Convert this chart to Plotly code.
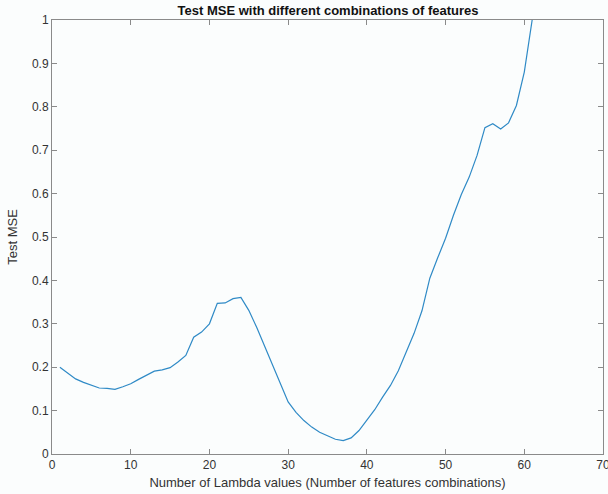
import plotly.graph_objects as go

n_lambda = list(range(1, 65))
test_mse = [0.200, 0.186, 0.173, 0.165, 0.159, 0.152, 0.151, 0.149, 0.155, 0.162,
            0.172, 0.182, 0.191, 0.194, 0.199, 0.212, 0.227, 0.269, 0.281, 0.300,
            0.347, 0.348, 0.358, 0.361, 0.331, 0.292, 0.250, 0.205, 0.162, 0.120,
            0.096, 0.077, 0.062, 0.050, 0.042, 0.034, 0.031, 0.037, 0.054, 0.077,
            0.102, 0.131, 0.158, 0.192, 0.235, 0.278, 0.330, 0.405, 0.452, 0.497,
            0.550, 0.598, 0.638, 0.688, 0.752, 0.761, 0.749, 0.763, 0.803, 0.880,
            1.000, 1.13, 1.28, 1.45]

x_ticks = [0, 10, 20, 30, 40, 50, 60, 70]
y_ticks = [0, 0.1, 0.2, 0.3, 0.4, 0.5, 0.6, 0.7, 0.8, 0.9, 1]
y_tick_labels = ["0", "0.1", "0.2", "0.3", "0.4", "0.5", "0.6", "0.7", "0.8", "0.9", "1"]

fig = go.Figure()
fig.add_trace(go.Scatter(x=n_lambda, y=test_mse, mode="lines",
                         line=dict(color="#2f8ac6", width=1.2), showlegend=False))

font_family = "Liberation Sans, Arial, Helvetica, sans-serif"
axis_common = dict(showline=True, linecolor="#8a8a8a", linewidth=1, mirror="ticks",
                   ticks="inside", ticklen=5, tickcolor="#8a8a8a", showgrid=False,
                   zeroline=False, automargin=False, ticklabeloverflow="allow",
                   tickfont=dict(size=12, color="#333333", family=font_family))

fig.update_xaxes(range=[0, 70], tickvals=x_ticks, ticktext=[str(v) for v in x_ticks],
                 title=dict(text="Number of Lambda values (Number of features combinations)",
                            font=dict(size=13, color="#333333", family=font_family), standoff=6),
                 **axis_common)
fig.update_yaxes(range=[0, 1], tickvals=y_ticks, ticktext=y_tick_labels,
                 title=dict(text="Test MSE", font=dict(size=13, color="#333333", family=font_family),
                            standoff=11),
                 **axis_common)

fig.update_layout(
    width=608, height=494,
    margin=dict(l=52, r=5, t=20, b=40, autoexpand=False),
    paper_bgcolor="#fbfdfd", plot_bgcolor="#fbfdfd",
    title=dict(text="<b>Test MSE with different combinations of features</b>",
               x=0.5395, xanchor="center", y=0.978, yanchor="middle",
               font=dict(size=13, color="#111111", family=font_family)),
    font=dict(family=font_family),
)

fig.write_html("out.html", config={"displayModeBar": False},
               post_script="document.body.style.margin='0';document.body.style.overflow='hidden';")
